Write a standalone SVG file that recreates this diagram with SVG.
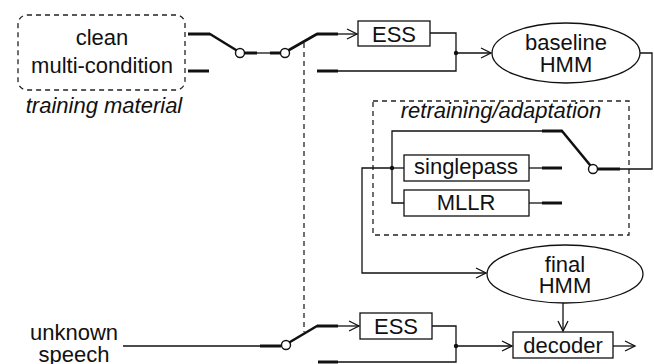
<svg xmlns="http://www.w3.org/2000/svg" width="654" height="364" viewBox="0 0 654 364">
  <style>
    .t { font-family: "Liberation Sans", Arial, sans-serif; font-size: 22px; fill: #111; text-anchor: middle; }
    .it { font-style: italic; }
    .box { fill: #fff; stroke: #111; stroke-width: 1.3; }
    .dash { fill: none; stroke: #222; stroke-width: 1.3; stroke-dasharray: 5 4; }
    .w { fill: none; stroke: #111; stroke-width: 1.3; }
    .th { fill: none; stroke: #111; stroke-width: 3; }
    .sw { fill: none; stroke: #111; stroke-width: 2.6; stroke-linecap: round; }
    .pivot { fill: #fff; stroke: #111; stroke-width: 1.4; }
    .arr { fill: none; stroke: #111; stroke-width: 1.3; marker-end: url(#head); }
  </style>
  <defs>
    <marker id="head" markerUnits="userSpaceOnUse" markerWidth="14" markerHeight="14" viewBox="-12 -7 14 14" refX="0" refY="0" orient="auto">
      <path d="M-10,-5 L0,0 L-10,5" fill="none" stroke="#111" stroke-width="1.3"/>
    </marker>
  </defs>

  <!-- training material source -->
  <g id="training">
    <rect class="dash" x="18" y="15" width="167" height="75" rx="9"/>
    <text class="t" x="102" y="45">clean</text>
    <text class="t" x="102" y="73">multi-condition</text>
    <text class="t it" x="104" y="113">training material</text>
  </g>

  <!-- retraining / adaptation block -->
  <g id="retraining">
    <rect class="dash" x="373" y="101" width="256" height="134"/>
    <text class="t it" x="501" y="118">retraining/adaptation</text>
  </g>

  <g id="ess1">
    <rect class="box" x="358" y="21" width="72" height="25"/>
    <text class="t" x="394" y="42">ESS</text>
  </g>

  <g id="baseline">
    <ellipse class="box" cx="566" cy="53" rx="74" ry="30"/>
    <text class="t" x="566" y="50">baseline</text>
    <text class="t" x="566" y="72">HMM</text>
  </g>

  <g id="singlepass">
    <rect class="box" x="404" y="155" width="125" height="26"/>
    <text class="t" x="466" y="174">singlepass</text>
  </g>

  <g id="mllr">
    <rect class="box" x="404" y="190" width="125" height="26"/>
    <text class="t" x="466" y="210">MLLR</text>
  </g>

  <g id="final">
    <ellipse class="box" cx="565" cy="274" rx="78" ry="29"/>
    <text class="t" x="565" y="272">final</text>
    <text class="t" x="565" y="293">HMM</text>
  </g>

  <g id="ess2">
    <rect class="box" x="360" y="313" width="72" height="26"/>
    <text class="t" x="396" y="334">ESS</text>
  </g>

  <g id="decoder">
    <rect class="box" x="513" y="332" width="100" height="26"/>
    <text class="t" x="563" y="353">decoder</text>
  </g>

  <g id="input">
    <text class="t" x="74" y="340">unknown</text>
    <text class="t" x="74" y="362">speech</text>
  </g>

  <g id="connectors">
    <!-- ganged switch control -->
    <line class="dash" x1="304" y1="43" x2="304" y2="332"/>

    <!-- switch 1: clean / multi-condition -->
    <line class="th" x1="188" y1="34" x2="210" y2="34"/>
    <line class="th" x1="188" y1="71" x2="209" y2="71"/>
    <line class="sw" x1="210" y1="34" x2="236" y2="50"/>
    <line class="th" x1="245" y1="53" x2="257" y2="53"/>
    <line class="w" x1="257" y1="53" x2="270" y2="53"/>
    <line class="th" x1="270" y1="53" x2="281" y2="53"/>
    <circle class="pivot" cx="240" cy="53" r="4.5"/>

    <!-- switch 2: with / without ESS -->
    <line class="sw" x1="289" y1="50" x2="317" y2="34"/>
    <circle class="pivot" cx="285" cy="53" r="4.5"/>
    <line class="th" x1="317" y1="34" x2="338" y2="34"/>
    <line class="arr" x1="338" y1="34" x2="357" y2="34"/>
    <line class="th" x1="317" y1="71" x2="338" y2="71"/>
    <polyline class="w" points="338,71 456,71 456,33 430,33"/>
    <circle cx="456" cy="53" r="2.2" fill="#111"/>
    <line class="arr" x1="456" y1="53" x2="491" y2="53"/>

    <!-- baseline HMM to retraining switch -->
    <polyline class="w" points="640,53 652,53 652,169 620,169"/>
    <line class="th" x1="598" y1="169" x2="620" y2="169"/>
    <line class="sw" x1="590" y1="165" x2="562" y2="131"/>
    <circle class="pivot" cx="593" cy="169" r="4.5"/>
    <line class="th" x1="542" y1="131" x2="562" y2="131"/>
    <polyline class="w" points="542,131 392,131 392,203 404,203"/>
    <line class="w" x1="392" y1="168" x2="404" y2="168"/>
    <circle cx="392" cy="168" r="2.2" fill="#111"/>
    <line class="w" x1="529" y1="168" x2="542" y2="168"/>
    <line class="th" x1="542" y1="168" x2="562" y2="168"/>
    <line class="w" x1="529" y1="203" x2="542" y2="203"/>
    <line class="th" x1="542" y1="203" x2="562" y2="203"/>

    <!-- adapted model to final HMM -->
    <polyline class="arr" points="392,168 362,168 362,273 486,273"/>

    <!-- final HMM to decoder -->
    <line class="arr" x1="563" y1="303" x2="563" y2="331"/>
    <line class="arr" x1="613" y1="346" x2="635" y2="346"/>

    <!-- switch 3: test speech with / without ESS -->
    <line class="w" x1="123" y1="346" x2="260" y2="346"/>
    <line class="th" x1="260" y1="346" x2="281" y2="346"/>
    <circle class="pivot" cx="286" cy="345" r="4.5"/>
    <line class="sw" x1="290" y1="342" x2="317" y2="326"/>
    <line class="th" x1="317" y1="326" x2="338" y2="326"/>
    <line class="arr" x1="338" y1="326" x2="359" y2="326"/>
    <line class="th" x1="318" y1="362" x2="338" y2="362"/>
    <polyline class="w" points="338,362 456,362 456,326 432,326"/>
    <circle cx="456" cy="346" r="2.2" fill="#111"/>
    <line class="arr" x1="456" y1="346" x2="512" y2="346"/>
  </g>
</svg>
